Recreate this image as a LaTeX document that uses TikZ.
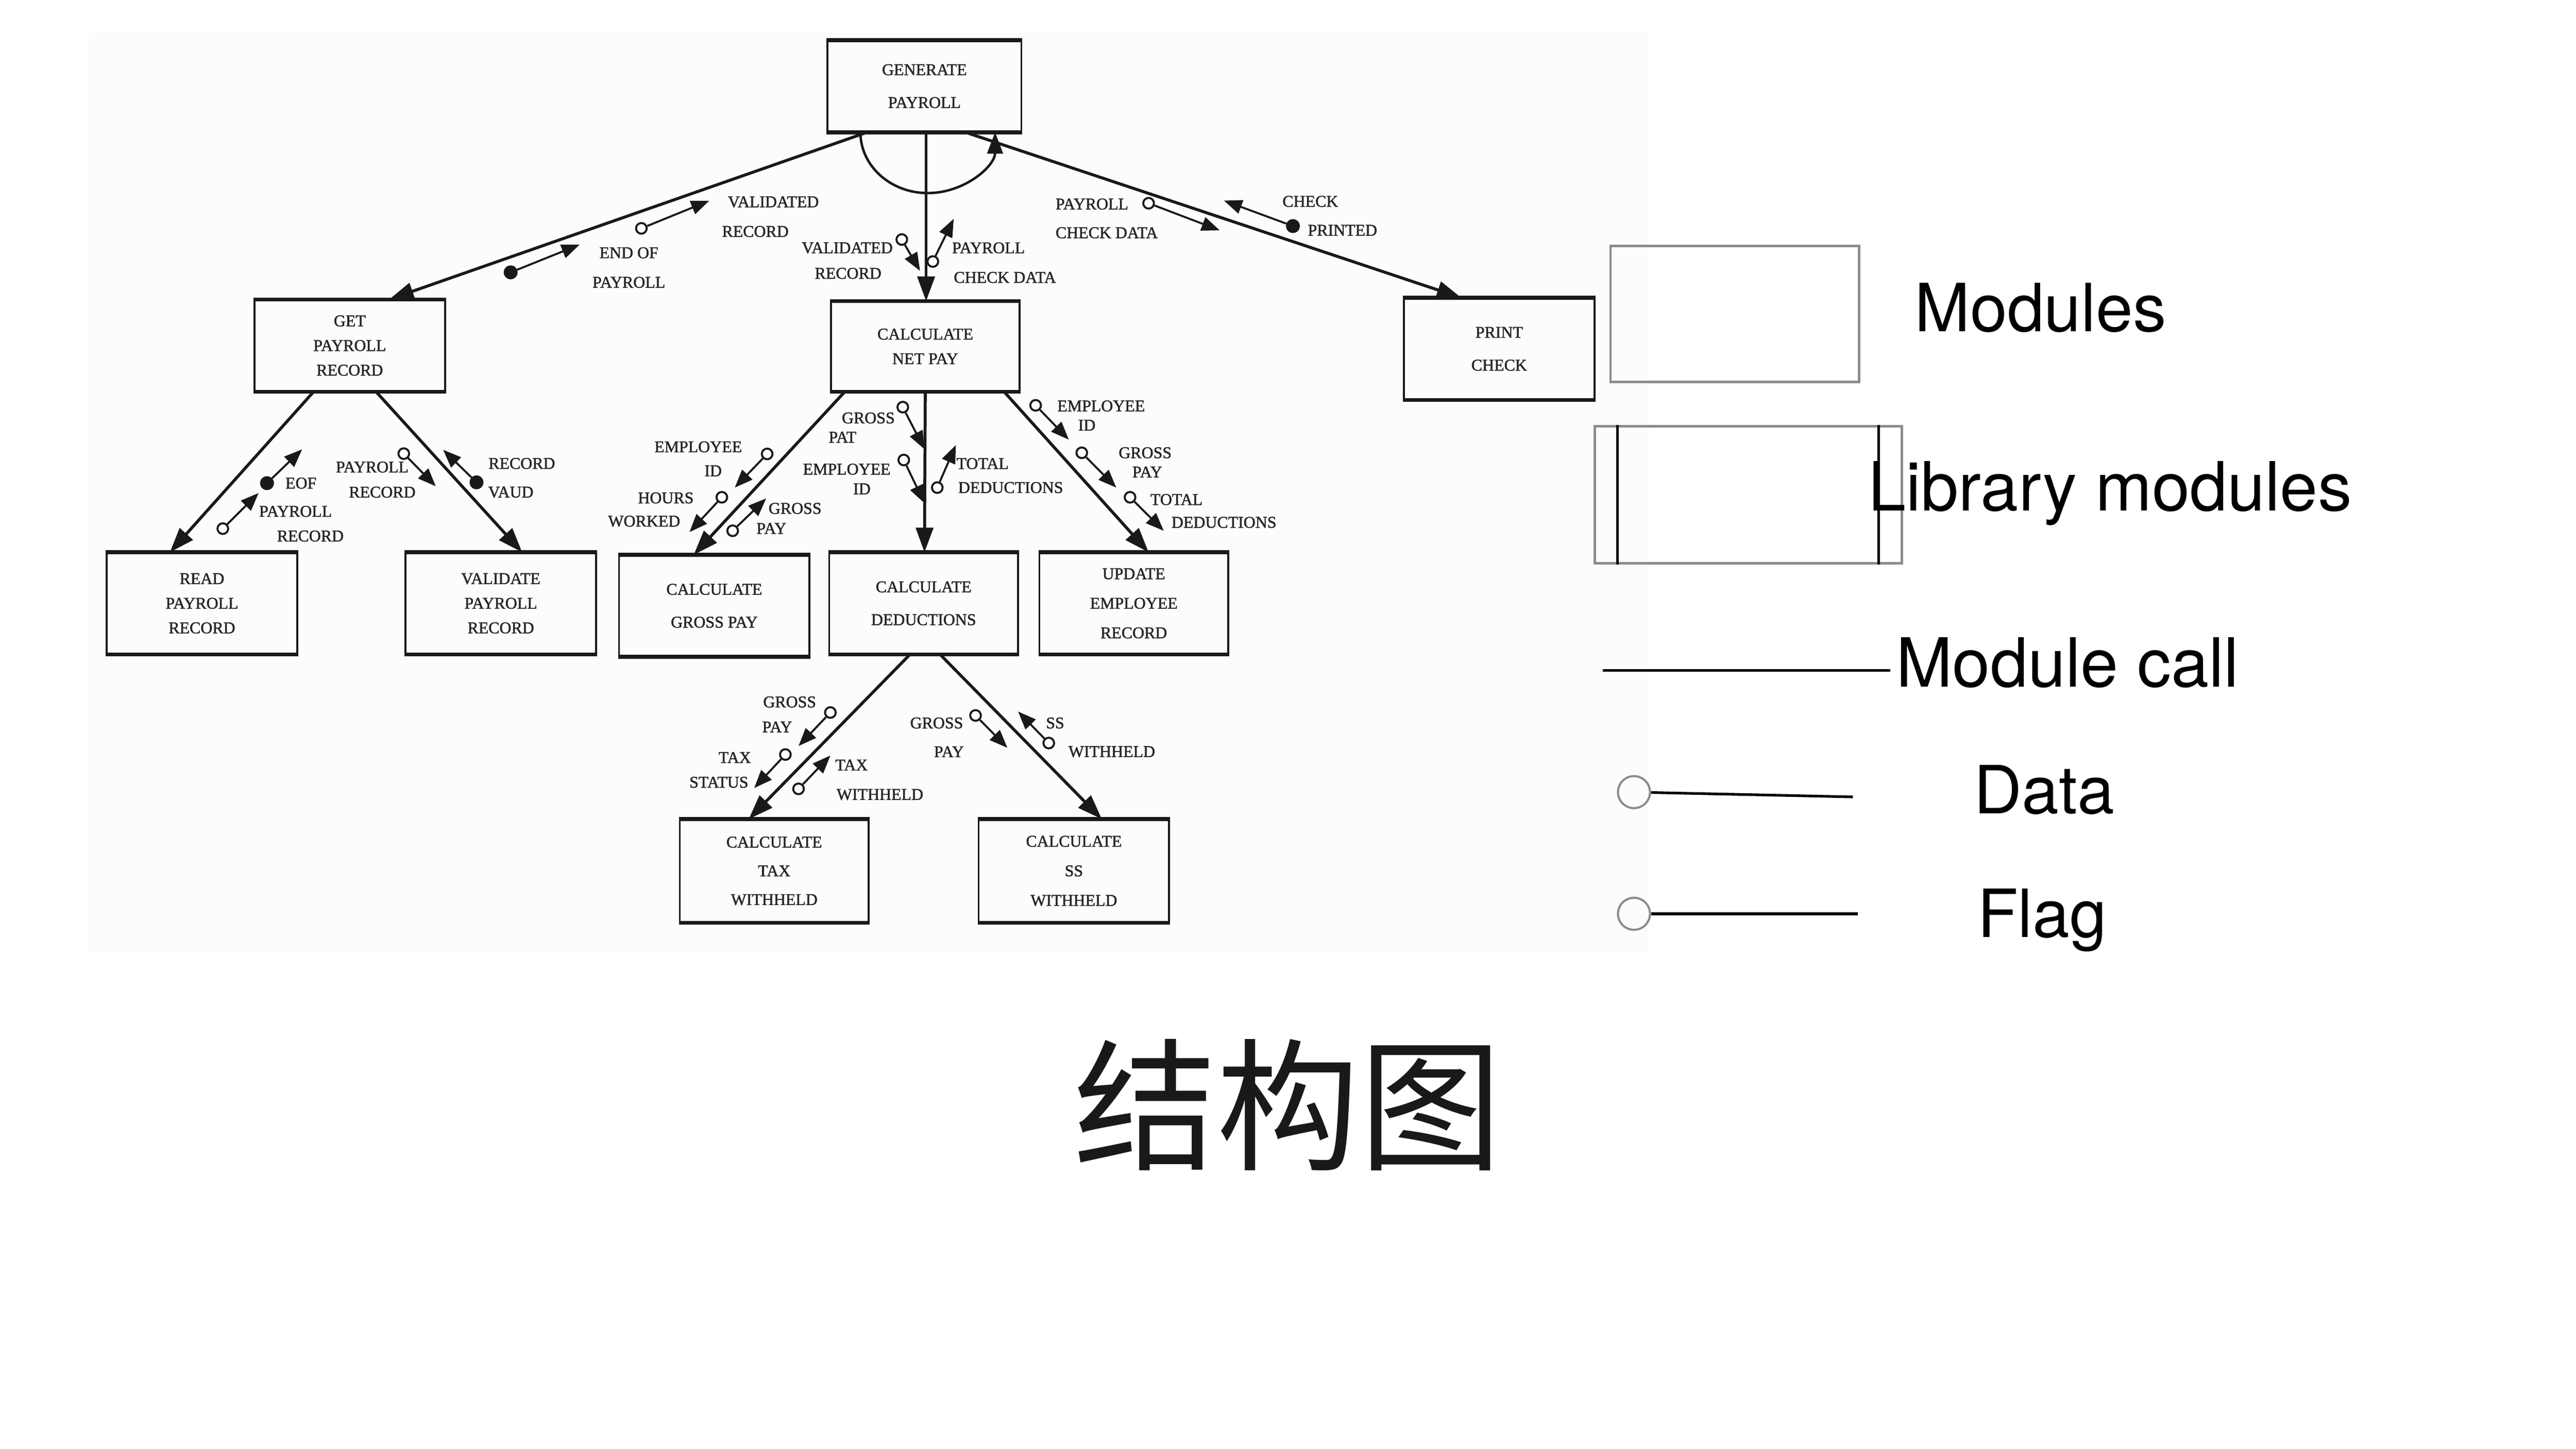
\documentclass[tikz,border=0pt]{standalone}
\usepackage{fontspec}
\setmainfont{Liberation Serif}
\newfontfamily\scanfont{Liberation Serif}[FakeBold=1.6]
\newfontfamily\legfont{TeX Gyre Heros}
\newfontfamily\cjkfont{Noto Sans CJK SC}
\usetikzlibrary{arrows.meta}
\newcommand\cpl[4]{\node[#4] (#1) at (#2) {}; \coordinate (#1t) at (#3); \draw[cplarrow] (#1) -- (#1t);}
\newcommand\lab[3]{\node[lbl] (#1) at (#2) {#3};}
\begin{document}
\begin{tikzpicture}[x=1pt,y=-1pt,
  modbox/.style={draw=black!90, line width=1.2pt, minimum width=116pt, minimum height=61pt, inner sep=0pt, align=center, text=black!85},
  boxedge/.style={line width=2.4pt, draw=black!90},
  call/.style={line width=1.8pt, draw=black!90, -{Triangle[length=15pt,width=10.5pt]}},
  cplarrow/.style={line width=1.2pt, draw=black!90, -{Triangle[length=11pt,width=8.5pt]}},
  ddot/.style={circle, draw=black!90, fill=white, line width=1.2pt, inner sep=0pt, minimum size=6.5pt},
  fdot/.style={circle, draw=black!90, fill=black!90, line width=1pt, inner sep=0pt, minimum size=7.5pt},
  lbl/.style={font=\scanfont\fontsize{10}{12}\selectfont, inner sep=0pt, text=black!85},
  legbox/.style={draw=black!45, line width=1.5pt, inner sep=0pt},
  legline/.style={line width=1.6pt, draw=black},
  legdot/.style={circle, draw=black!45, line width=1.3pt, inner sep=0pt, minimum size=19.5pt},
  legtext/.style={font=\legfont\fontsize{40.5}{48}\selectfont, inner sep=0pt, anchor=base west}
]
\useasboundingbox (0,0) rectangle (1568.8,882.4);
\fill[white] (0,0) rectangle (1568.8,882.4);
\fill[black!1.2] (54,20) rectangle (1004,580);

% modules
\node[modbox, minimum width=118pt, minimum height=55pt, font=\scanfont\fontsize{10}{20}\selectfont] (gen) at (563,52.5) {GENERATE\\PAYROLL};
\node[modbox, minimum height=55pt, font=\scanfont\fontsize{10}{15}\selectfont] (get) at (213,210.5) {GET\\PAYROLL\\RECORD};
\node[modbox, minimum width=115pt, minimum height=54pt, font=\scanfont\fontsize{10}{15}\selectfont] (net) at (563.5,211) {CALCULATE\\NET PAY};
\node[modbox, font=\scanfont\fontsize{10}{20}\selectfont] (prt) at (913,212.5) {PRINT\\CHECK};
\node[modbox, font=\scanfont\fontsize{10}{15}\selectfont] (read) at (123,367.5) {READ\\PAYROLL\\RECORD};
\node[modbox, font=\scanfont\fontsize{10}{15}\selectfont] (valid) at (305,367.5) {VALIDATE\\PAYROLL\\RECORD};
\node[modbox, font=\scanfont\fontsize{10}{20}\selectfont] (gross) at (435,369) {CALCULATE\\GROSS PAY};
\node[modbox, minimum width=115pt, font=\scanfont\fontsize{10}{20}\selectfont] (ded) at (562.5,367.5) {CALCULATE\\DEDUCTIONS};
\node[modbox, minimum width=115pt, font=\scanfont\fontsize{10}{18}\selectfont] (upd) at (690.5,367.5) {UPDATE\\EMPLOYEE\\RECORD};
\node[modbox, minimum width=115pt, minimum height=62pt, font=\scanfont\fontsize{10}{17.5}\selectfont] (tax) at (471.5,530.5) {CALCULATE\\TAX\\WITHHELD};
\node[modbox, minimum height=62pt, font=\scanfont\fontsize{10}{18}\selectfont] (ss) at (654,530.5) {CALCULATE\\SS\\WITHHELD};
\foreach \n in {gen,get,net,prt,read,valid,gross,ded,upd,tax,ss}{
  \draw[boxedge] (\n.north west) -- (\n.north east) (\n.south west) -- (\n.south east);
}

% module calls
\draw[call] ([xshift=-35pt]gen.south) -- ([xshift=24pt]get.north);
\draw[call] ([xshift=1pt]gen.south) -- ([xshift=0.5pt]net.north);
\draw[call] ([xshift=25pt]gen.south) -- ([xshift=-23pt]prt.north);
\draw[line width=1.5pt, draw=black!90, -{Triangle[length=13pt,width=9.5pt]}] ([xshift=-39pt]gen.south) arc[start angle=180, end angle=0, x radius=41, y radius=37];
\draw[call] ([xshift=-22pt]get.south) -- ([xshift=-19.5pt]read.north);
\draw[call] ([xshift=16pt]get.south) -- ([xshift=13pt]valid.north);
\draw[call] ([xshift=-49pt]net.south) -- ([xshift=-12.5pt]gross.north);
\draw[call] ([xshift=0pt]net.south) -- ([xshift=0.5pt]ded.north);
\draw[call] ([xshift=48pt]net.south) -- ([xshift=9pt]upd.north);
\draw[call] ([xshift=-8.3pt]ded.south) -- ([xshift=-15.5pt]tax.north);
\draw[call] ([xshift=10pt]ded.south) -- ([xshift=17pt]ss.north);

% couples
\cpl{c1}{390.6,139.1}{431.9,122.3}{ddot}
\cpl{c2}{311,165.9}{353,149}{fdot}
\cpl{c3}{549.2,145.9}{560.3,165}{ddot}
\cpl{c4}{568.1,159.3}{580.8,133.3}{ddot}
\cpl{c5}{699.5,123.8}{742.8,140.3}{ddot}
\cpl{c6}{787.4,137.7}{745.4,122.2}{fdot}
\cpl{c7}{162.6,294.3}{184,273.7}{fdot}
\cpl{c8}{135.7,322}{157.5,300.3}{ddot}
\cpl{c9}{245.9,276.3}{265.4,296.2}{ddot}
\cpl{c10}{290.2,293.8}{269.9,274}{fdot}
\cpl{c11}{467.2,276.5}{447.5,297}{ddot}
\cpl{c12}{439.6,302.9}{419.9,324.1}{ddot}
\cpl{c13}{446.2,323.3}{466.6,303.6}{ddot}
\cpl{c14}{549.8,248}{563,273.6}{ddot}
\cpl{c15}{550.4,280.2}{563,306.5}{ddot}
\cpl{c16}{570.8,297}{582.1,271.1}{ddot}
\cpl{c17}{630.7,246.9}{650.9,267.8}{ddot}
\cpl{c18}{658.8,275.8}{679.8,297}{ddot}
\cpl{c19}{688.2,302.9}{708.7,323.3}{ddot}
\cpl{c20}{505.7,434}{486.3,454.4}{ddot}
\cpl{c21}{478.3,459.6}{459.3,480}{ddot}
\cpl{c22}{486.3,480.5}{505.7,460.2}{ddot}
\cpl{c23}{594.1,435.8}{613.5,455.5}{ddot}
\cpl{c24}{638.7,452.6}{620,433.4}{ddot}

% labels
\lab{t1}{471,123}{VALIDATED}
\lab{t2}{460,141}{RECORD}
\lab{t3}{383,154}{END OF}
\lab{t4}{383,172}{PAYROLL}
\lab{t5}{516,151}{VALIDATED}
\lab{t6}{516.5,166.5}{RECORD}
\lab{t7}{602,151}{PAYROLL}
\lab{t8}{612,169}{CHECK DATA}
\lab{t9}{665,124.3}{PAYROLL}
\lab{t10}{674,141.8}{CHECK DATA}
\lab{t11}{798,122.7}{CHECK}
\lab{t12}{817.6,140.3}{PRINTED}
\lab{t13}{183.3,294.3}{EOF}
\lab{t14}{180,311.5}{PAYROLL}
\lab{t15}{189,326.5}{RECORD}
\lab{t16}{226.7,284.5}{PAYROLL}
\lab{t17}{232.8,299.8}{RECORD}
\lab{t18}{317.8,282.3}{RECORD}
\lab{t19}{311.1,299.8}{VAUD}
\lab{t20}{425.2,272.2}{EMPLOYEE}
\lab{t21}{434.3,286.8}{ID}
\lab{t22}{405.5,303.3}{HOURS}
\lab{t23}{392.3,317.5}{WORKED}
\lab{t24}{484.2,309.7}{GROSS}
\lab{t25}{469.8,321.9}{PAY}
\lab{t26}{528.8,254.6}{GROSS}
\lab{t27}{513.1,266.3}{PAT}
\lab{t28}{515.7,285.8}{EMPLOYEE}
\lab{t29}{524.9,297.8}{ID}
\lab{t30}{598.4,282.4}{TOTAL}
\lab{t31}{615.5,297}{DEDUCTIONS}
\lab{t32}{670.6,247.3}{EMPLOYEE}
\lab{t33}{661.9,259}{ID}
\lab{t34}{697.4,275.8}{GROSS}
\lab{t35}{698.7,287.5}{PAY}
\lab{t36}{716.5,304.3}{TOTAL}
\lab{t37}{745.4,318.2}{DEDUCTIONS}
\lab{t38}{480.9,427.6}{GROSS}
\lab{t39}{473.3,442.8}{PAY}
\lab{t40}{447.5,461.4}{TAX}
\lab{t41}{437.8,476.5}{STATUS}
\lab{t42}{518.6,466}{TAX}
\lab{t43}{535.9,484}{WITHHELD}
\lab{t44}{570.4,440.4}{GROSS}
\lab{t45}{577.9,457.9}{PAY}
\lab{t46}{642.6,440.4}{SS}
\lab{t47}{677.1,457.9}{WITHHELD}

% legend
\node[legbox, minimum width=151.4pt, minimum height=82.9pt] (lmod) at (1056.5,191.2) {};
\node[legbox, minimum width=187pt, minimum height=83.4pt] (llib) at (1064.75,301.3) {};
\draw[legline] ([xshift=14.4pt]llib.north west) -- ([xshift=14.4pt]llib.south west);
\draw[legline] ([xshift=-15pt]llib.north east) -- ([xshift=-15pt]llib.south east);
\coordinate (mc1) at (976,408.4);
\coordinate (mc2) at (1151.3,408.4);
\draw[legline] (mc1) -- (mc2);
\node[legdot] (ld) at (995.1,482.5) {};
\coordinate (lde) at (1128.4,485.4);
\draw[legline] (ld) -- (lde);
\node[legdot] (lf) at (995.1,556.6) {};
\coordinate (lfe) at (1131.5,556.6);
\draw[legline] (lf) -- (lfe);
\node[legtext] (tmod) at (1166,202) {Modules};
\node[legtext, font=\legfont\fontsize{41.3}{48}\selectfont] (tlib) at (1137.5,311) {Library modules};
\node[legtext, font=\legfont\fontsize{41.3}{48}\selectfont] (tcall) at (1154.5,418.5) {Module call};
\node[legtext] (tdata) at (1202,495.5) {Data};
\node[legtext] (tflag) at (1204,571) {Flag};

% title
\node[font=\cjkfont\fontsize{87}{100}\selectfont, inner sep=0pt, anchor=base, text=black!90] (title) at (784.5,706) {结构图};
\end{tikzpicture}
\end{document}
